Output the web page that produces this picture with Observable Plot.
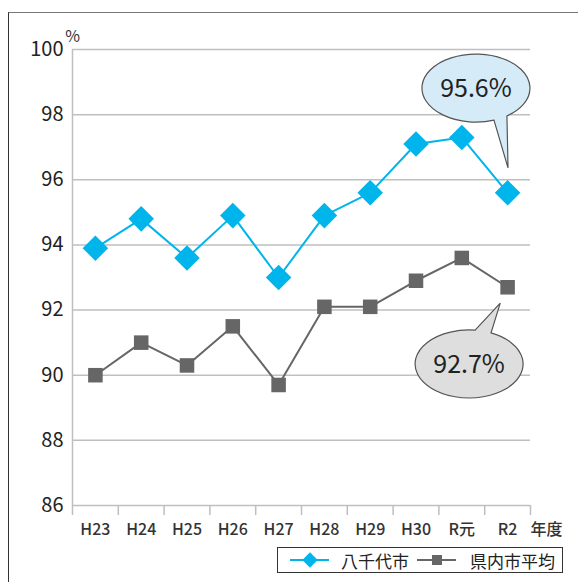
<!DOCTYPE html>
<html>
<head>
<meta charset="utf-8">
<script src="https://cdn.jsdelivr.net/npm/d3@7"></script>
<script src="https://cdn.jsdelivr.net/npm/@observablehq/plot@0.6"></script>
<style>
  html, body { margin: 0; padding: 0; background: #fff; }
  body { width: 578px; height: 582px; position: relative; overflow: hidden; font-family: "Noto Sans CJK JP", "Noto Sans", sans-serif; }
  #frame { position: absolute; left: 8px; top: 12px; width: 580px; height: 580px; border-left: 1.5px solid #333; border-top: 1.5px solid #777; }
  #chart { position: absolute; left: 0; top: 0; }
  #legend { position: absolute; left: 277px; top: 547px; width: 284px; height: 24px; border: 1px solid #333; background: #fff; }
</style>
</head>
<body>
<div id="frame"></div>
<div id="chart"></div>
<div id="legend"></div>
<script>
const categories = ["H23", "H24", "H25", "H26", "H27", "H28", "H29", "H30", "R元", "R2"];
const yachiyo = [93.9, 94.8, 93.6, 94.9, 93.0, 94.9, 95.6, 97.1, 97.3, 95.6];
const prefAvg = [90.0, 91.0, 90.3, 91.5, 89.7, 92.1, 92.1, 92.9, 93.6, 92.7];
const yTicks = [86, 88, 90, 92, 94, 96, 98, 100];
const seriesNames = ["八千代市", "県内市平均"];
const xUnit = "年度";
const yUnit = "%";

const blue = "#00b4ec";
const gray = "#666666";
const gridColor = "#bfbfbf";
const font = '"Noto Sans CJK JP", "Noto Sans", sans-serif';

const idx = d3.range(categories.length);
const boundaries = d3.range(categories.length + 1).map(i => i - 0.5);
const dataA = idx.map(i => ({i, v: yachiyo[i]}));
const dataB = idx.map(i => ({i, v: prefAvg[i]}));

const plot = Plot.plot({
  width: 578,
  height: 545,
  marginLeft: 72,
  marginRight: 48,
  marginTop: 49,
  marginBottom: 40,
  style: {fontFamily: font, background: "transparent", overflow: "visible"},
  x: {type: "linear", domain: [-0.5, categories.length - 0.5]},
  y: {domain: [86, 100]},
  marks: [
    Plot.gridY(yTicks, {stroke: gridColor, strokeOpacity: 1, strokeWidth: 1.5}),
    Plot.ruleX([-0.5], {y1: 86, y2: 100, stroke: gridColor, strokeWidth: 1.5}),
    Plot.axisY(yTicks, {tickSize: 0, tickPadding: 9, fontSize: 20, fill: "#222", label: null}),
    Plot.axisX(boundaries, {tickSize: 10, stroke: gridColor, strokeWidth: 1.5, tickFormat: () => "", label: null}),
    Plot.axisX(idx, {tickSize: 0, tickPadding: 18, fontSize: 16, fontWeight: 500, fill: "#333", tickFormat: i => categories[i], label: null}),
    Plot.text([yUnit], {frameAnchor: "top-left", dx: 0, dy: -19, fontSize: 16, fill: "#333", textAnchor: "middle"}),
    Plot.text([xUnit], {frameAnchor: "bottom-right", dx: 16, dy: 29, fontSize: 16, fontWeight: 500, fill: "#333", textAnchor: "middle"}),
    Plot.line(dataB, {x: "i", y: "v", stroke: gray, strokeWidth: 2}),
    Plot.dot(dataB, {x: "i", y: "v", symbol: "square", r: 8.2, fill: gray, stroke: "none"}),
    Plot.line(dataA, {x: "i", y: "v", stroke: blue, strokeWidth: 2}),
    Plot.dot(dataA, {x: "i", y: "v", symbol: "diamond2", r: 11.5, fill: blue, stroke: "none"})
  ]
});
document.getElementById("chart").appendChild(plot);

// Callouts drawn with the plot's own scales
const sx = plot.scale("x"), sy = plot.scale("y");
const svg = d3.select(plot);
const last = categories.length - 1;
const callouts = [
  {value: yachiyo[last], fill: "#d5ebf8", c: [8.32, 98.8], tip: [9.02, 96.35], a1: 70.5, a2: 55.0, sweep: 0},
  {value: prefAvg[last], fill: "#dedede", c: [8.17, 90.33], tip: [8.85, 92.2], a1: -83.6, a2: -66.0, sweep: 1}
];
const rx = 54, ry = 34;
for (const co of callouts) {
  const cx = sx.apply(co.c[0]), cy = sy.apply(co.c[1]);
  const tx = sx.apply(co.tip[0]), ty = sy.apply(co.tip[1]);
  const p = a => [cx + rx * Math.cos(a * Math.PI / 180), cy + ry * Math.sin(a * Math.PI / 180)];
  const b1 = p(co.a1), b2 = p(co.a2);
  const d = `M${b1[0]},${b1[1]} L${tx},${ty} L${b2[0]},${b2[1]} A${rx},${ry} 0 1 ${co.sweep} ${b1[0]},${b1[1]} Z`;
  svg.append("path").attr("d", d).attr("fill", co.fill).attr("stroke", "#555").attr("stroke-width", 1.2).attr("stroke-linejoin", "miter");
  svg.append("text").attr("x", cx).attr("y", cy + 2).attr("text-anchor", "middle").attr("dominant-baseline", "middle")
    .attr("font-family", font).attr("font-size", 25).attr("fill", "#222").text(co.value.toFixed(1) + "%");
}

// Legend
const lg = d3.select("#legend").append("svg").attr("width", 284).attr("height", 24);
lg.append("line").attr("x1", 12).attr("x2", 51).attr("y1", 12).attr("y2", 12).attr("stroke", blue).attr("stroke-width", 2);
lg.append("path").attr("d", d3.symbol(d3.symbolDiamond2, 150)()).attr("transform", "translate(32,12)").attr("fill", blue);
lg.append("text").attr("x", 63).attr("y", 12).attr("dominant-baseline", "central").attr("font-family", font).attr("font-size", 17).attr("fill", "#222").text(seriesNames[0]);
lg.append("line").attr("x1", 139).attr("x2", 178).attr("y1", 12).attr("y2", 12).attr("stroke", gray).attr("stroke-width", 2);
lg.append("rect").attr("x", 154).attr("y", 7).attr("width", 10).attr("height", 10).attr("fill", gray);
lg.append("text").attr("x", 192).attr("y", 12).attr("dominant-baseline", "central").attr("font-family", font).attr("font-size", 17).attr("fill", "#222").text(seriesNames[1]);
</script>
</body>
</html>
